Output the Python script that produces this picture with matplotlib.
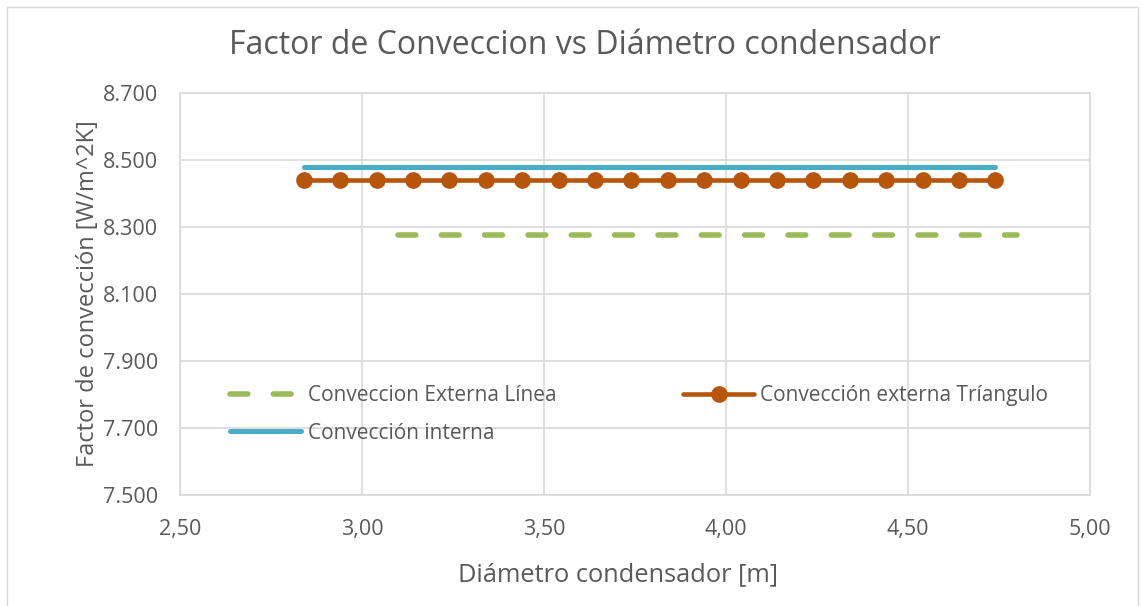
import matplotlib.pyplot as plt
from matplotlib.patches import Rectangle

# data
x_linea = [3.10, 3.20, 3.30, 3.40, 3.50, 3.60, 3.70, 3.80, 3.90, 4.00,
           4.10, 4.20, 4.30, 4.40, 4.50, 4.60, 4.70, 4.80]
y_linea = [8.276] * len(x_linea)

x_triangulo = [2.84, 2.94, 3.04, 3.14, 3.24, 3.34, 3.44, 3.54, 3.64, 3.74,
               3.84, 3.94, 4.04, 4.14, 4.24, 4.34, 4.44, 4.54, 4.64, 4.74]
y_triangulo = [8.440] * len(x_triangulo)

x_interna = [2.84, 3.24, 3.64, 4.04, 4.44, 4.74]
y_interna = [8.479] * len(x_interna)

x_ticks = [2.50, 3.00, 3.50, 4.00, 4.50, 5.00]
x_labels = ["2,50", "3,00", "3,50", "4,00", "4,50", "5,00"]
y_ticks = [7.5, 7.7, 7.9, 8.1, 8.3, 8.5, 8.7]
y_labels = ["7.500", "7.700", "7.900", "8.100", "8.300", "8.500", "8.700"]

plt.rcParams['font.family'] = ['Open Sans', 'DejaVu Sans']
gray = "#595959"

fig = plt.figure(figsize=(11.41, 6.06), dpi=100)
fig.patches.append(Rectangle((7 / 1141, -0.05), 1131 / 1141, 1 - 7 / 606 + 0.05,
                             transform=fig.transFigure, fill=False,
                             edgecolor="#D9D9D9", linewidth=1))
ax = fig.add_axes([180 / 1141, 1 - 495 / 606, 910 / 1141, 402 / 606])

l1, = ax.plot(x_linea, y_linea, color="#9BBB59", linewidth=4,
              linestyle=(0, (3.2, 4.6)), dash_capstyle="round",
              label="Conveccion Externa Línea")
l2, = ax.plot(x_triangulo, y_triangulo, color="#B7560B", linewidth=3.3,
              marker="o", markersize=11, solid_capstyle="round",
              label="Convección externa Tríangulo")
l3, = ax.plot(x_interna, y_interna, color="#4BACC6", linewidth=3.6,
              solid_capstyle="round", label="Convección interna")

ax.set_xlim(2.5, 5.0)
ax.set_ylim(7.5, 8.7)
ax.set_xticks(x_ticks)
ax.set_xticklabels(x_labels)
ax.set_yticks(y_ticks)
ax.set_yticklabels(y_labels)
ax.tick_params(length=0, labelsize=15.5, labelcolor=gray)
ax.tick_params(axis="y", pad=16)
ax.tick_params(axis="x", pad=17)
ax.grid(True, color="#D9D9D9", linewidth=1.2)
ax.set_axisbelow(True)
for s in ax.spines.values():
    s.set_color("#D9D9D9")
    s.set_linewidth(1.2)

ax.set_xlabel("Diámetro condensador [m]", fontsize=18.3, color=gray)
ax.xaxis.set_label_coords((618 - 180) / 910, -(575 - 495) / 402)
ax.xaxis.label.set_va("center")
ax.set_ylabel("Factor de convección [W/m^2K]", fontsize=17, color=gray, labelpad=2)
fig.text(585 / 1141, 1 - 45 / 606, "Factor de Conveccion vs Diámetro condensador",
         ha="center", va="center", fontsize=23, color=gray)

leg = ax.legend([l1, l3, l2], [l1.get_label(), l3.get_label(), l2.get_label()],
                ncol=2, frameon=False, loc="upper left",
                bbox_to_anchor=(40 / 910, 1 - 282 / 402),
                fontsize=15, handlelength=3.4, handletextpad=0.3,
                columnspacing=6.1, labelspacing=0.78, borderpad=0)
for t in leg.get_texts():
    t.set_color(gray)

fig.savefig("out.png", dpi=100)
